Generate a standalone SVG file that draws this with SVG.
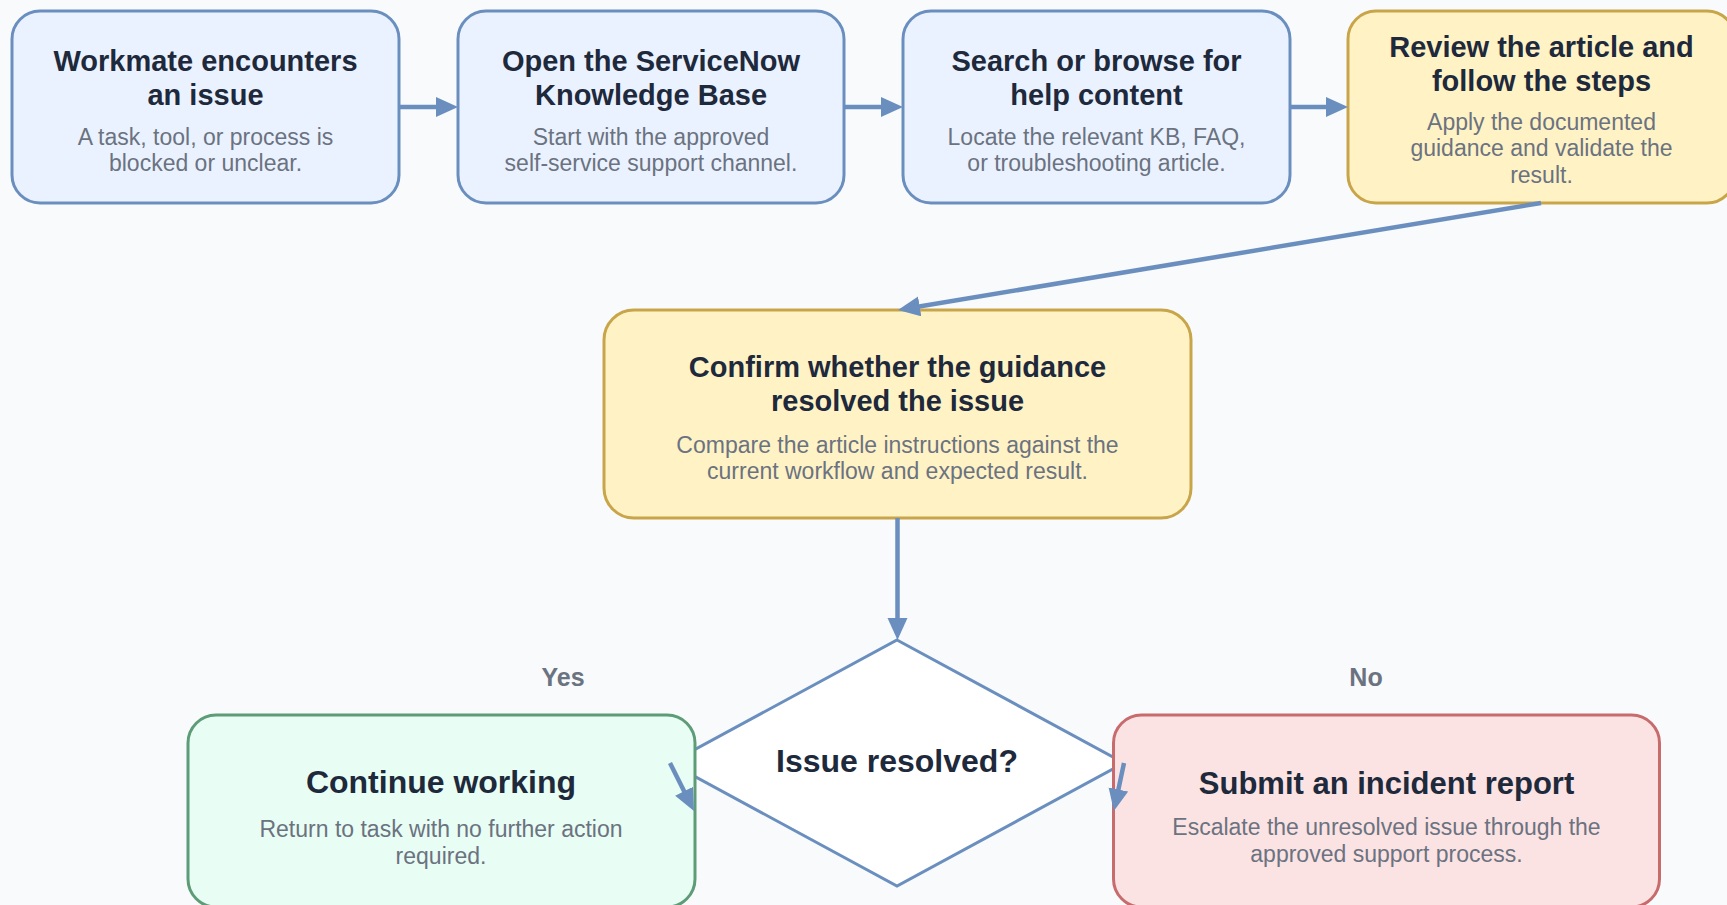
<svg xmlns="http://www.w3.org/2000/svg" width="1727" height="905" viewBox="0 0 1727 905">
<defs>
<style>
.bg{fill:#f8fafc}
.box{stroke-width:3}
.blue{fill:#eaf2ff;stroke:#6a8fbf}
.yellow{fill:#fff3c6;stroke:#c9a54a}
.green{fill:#e8fdf4;stroke:#5e9c78}
.red{fill:#fbe3e4;stroke:#c86b6d}
.diamond{fill:#ffffff;stroke:#6a8fbf;stroke-width:3}
.t{font-family:"Liberation Sans",Arial,sans-serif;font-weight:bold;fill:#1e293b;text-anchor:middle;font-size:29px}
.tb{font-family:"Liberation Sans",Arial,sans-serif;font-weight:bold;fill:#1e293b;text-anchor:middle;font-size:32px}
.d{font-family:"Liberation Sans",Arial,sans-serif;fill:#6b7280;text-anchor:middle;font-size:23px}
.lbl{font-family:"Liberation Sans",Arial,sans-serif;font-weight:bold;fill:#6b7280;text-anchor:middle;font-size:25px}
.conn{fill:none;stroke:#6a8fbf;stroke-width:4.5}
</style>
<marker id="ah" markerUnits="userSpaceOnUse" markerWidth="24" markerHeight="22" refX="2" refY="10" orient="auto">
<path d="M0,0 L22,10 L0,20 z" fill="#6a8fbf"/>
</marker>
</defs>
<rect class="bg" x="0" y="0" width="1727" height="905"/>

<g id="decision">
<polygon class="diamond" points="897,640 1124,763 897,886 670,763"/>
<text class="tb" x="897" y="772">Issue resolved?</text>
</g>

<g id="n1">
<rect class="box blue" x="12" y="11" width="387" height="192" rx="28"/>
<text class="t" x="205.5" y="71">Workmate encounters</text>
<text class="t" x="205.5" y="105">an issue</text>
<text class="d" x="205.5" y="145">A task, tool, or process is</text>
<text class="d" x="205.5" y="171">blocked or unclear.</text>
</g>

<g id="n2">
<rect class="box blue" x="458" y="11" width="386" height="192" rx="28"/>
<text class="t" x="651" y="71">Open the ServiceNow</text>
<text class="t" x="651" y="105">Knowledge Base</text>
<text class="d" x="651" y="145">Start with the approved</text>
<text class="d" x="651" y="171">self-service support channel.</text>
</g>

<g id="n3">
<rect class="box blue" x="903" y="11" width="387" height="192" rx="28"/>
<text class="t" x="1096.5" y="71">Search or browse for</text>
<text class="t" x="1096.5" y="105">help content</text>
<text class="d" x="1096.5" y="145">Locate the relevant KB, FAQ,</text>
<text class="d" x="1096.5" y="171">or troubleshooting article.</text>
</g>

<g id="n4">
<rect class="box yellow" x="1348" y="11" width="387" height="192" rx="28"/>
<text class="t" x="1541.5" y="57">Review the article and</text>
<text class="t" x="1541.5" y="91">follow the steps</text>
<text class="d" x="1541.5" y="129.5">Apply the documented</text>
<text class="d" x="1541.5" y="156">guidance and validate the</text>
<text class="d" x="1541.5" y="182.5">result.</text>
</g>

<g id="n5">
<rect class="box yellow" x="604" y="310" width="587" height="208" rx="30"/>
<text class="t" x="897.5" y="377">Confirm whether the guidance</text>
<text class="t" x="897.5" y="411">resolved the issue</text>
<text class="d" x="897.5" y="452.5">Compare the article instructions against the</text>
<text class="d" x="897.5" y="478.5">current workflow and expected result.</text>
</g>

<g id="n6">
<rect class="box green" x="188" y="715" width="507" height="192" rx="28"/>
<text class="tb" x="441" y="793">Continue working</text>
<text class="d" x="441" y="837">Return to task with no further action</text>
<text class="d" x="441" y="864">required.</text>
</g>

<g id="n7">
<rect class="box red" x="1113.5" y="715" width="546" height="192" rx="28"/>
<text class="tb" x="1386.5" y="794" style="font-size:31px">Submit an incident report</text>
<text class="d" x="1386.5" y="835">Escalate the unresolved issue through the</text>
<text class="d" x="1386.5" y="862">approved support process.</text>
</g>

<g id="labels">
<text class="lbl" x="563" y="686">Yes</text>
<text class="lbl" x="1366" y="686">No</text>
</g>

<g id="connectors">
<path class="conn" d="M399,107 L438,107" marker-end="url(#ah)"/>
<path class="conn" d="M844,107 L883,107" marker-end="url(#ah)"/>
<path class="conn" d="M1290,107 L1328,107" marker-end="url(#ah)"/>
<path class="conn" d="M1541,203 L917.7,306.7" marker-end="url(#ah)"/>
<path class="conn" d="M897.5,518 L897.5,620" marker-end="url(#ah)"/>
<path class="conn" d="M670,763 L685,793" marker-end="url(#ah)"/>
<path class="conn" d="M1124,763 L1118,791.4" marker-end="url(#ah)"/>
</g>
</svg>
